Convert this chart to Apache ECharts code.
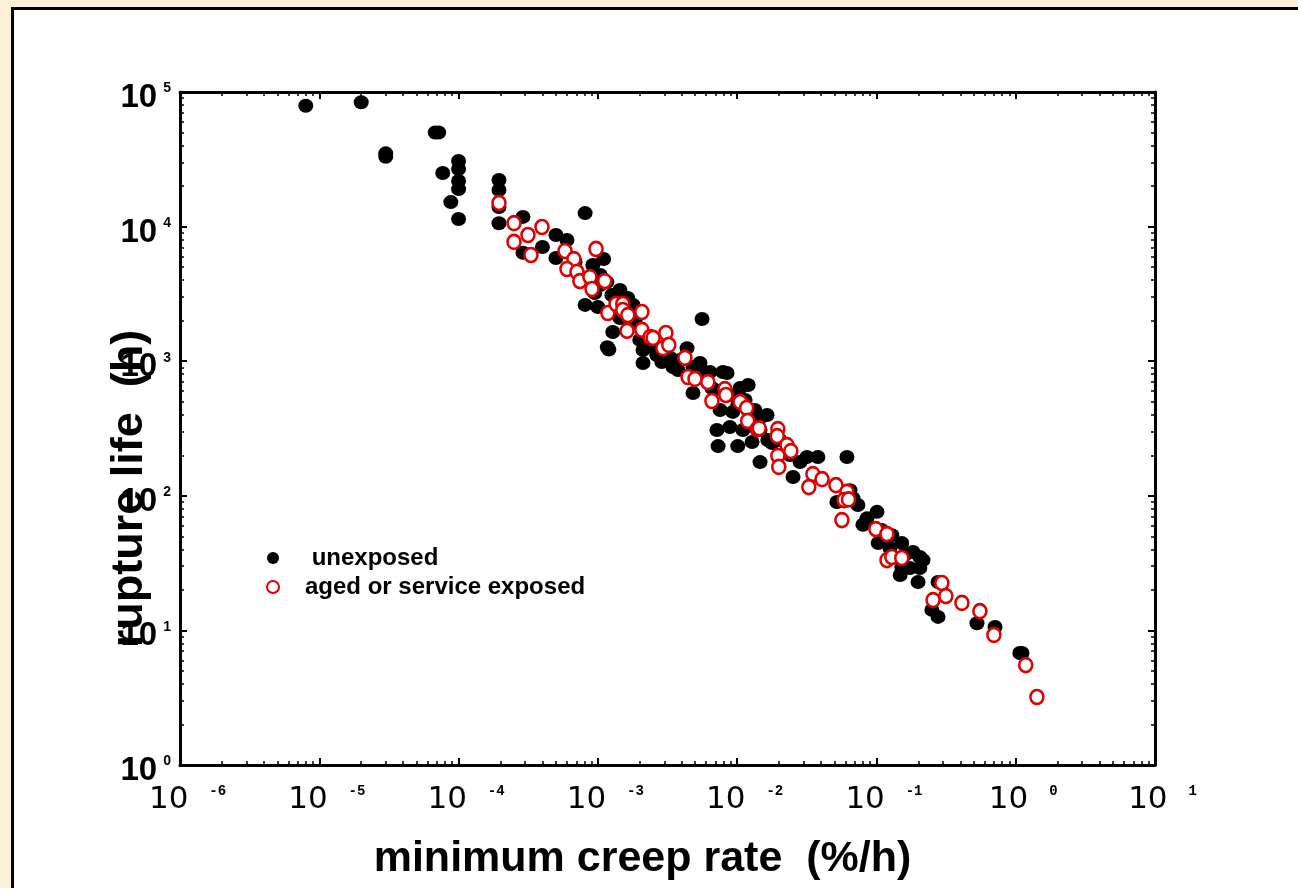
<!DOCTYPE html>
<html><head><meta charset="utf-8">
<script src="https://cdn.jsdelivr.net/npm/echarts@6/dist/echarts.min.js"></script>
<style>
html,body{margin:0;padding:0;width:1298px;height:888px;overflow:hidden;background:#fcf0d9;}
#panel{position:absolute;left:11px;top:7px;width:1400px;height:1000px;background:#fff;border:3px solid #000;box-sizing:border-box;}
#chart{position:absolute;left:0;top:0;width:1298px;height:888px;}
</style></head><body>
<div id="panel"></div><div id="chart"></div>
<script>
// ---- data (minimum creep rate in %/h, rupture life in h) ----
const unexposedRate = [8.0e-6,2.0e-5,6.8e-5,7.2e-5,3.0e-5,3.0e-5,1.0e-4,1.0e-4,7.7e-5,1.0e-4,1.0e-4,8.8e-5,1.0e-4,
 1.95e-4,1.95e-4,1.95e-4,1.95e-4,2.9e-4,2.9e-4,4.0e-4,5.0e-4,5.0e-4,6.0e-4,8.1e-4,1.1e-3,9.2e-4,8.1e-4,1.0e-3,1.16e-3,9.5e-4,
 1.28e-3,1.17e-3,1.2e-3,2.11e-3,2.11e-3,1.64e-3,1.79e-3,1.70e-3,5.6e-3,4.37e-3,4.82e-3,3.46e-3,4.82e-3,7.9e-3,2.65e-3,3.3e-3,
 5.41e-3,6.38e-3,8.46e-3,1.05e-2,1.20e-2,7.54e-3,9.3e-3,8.87e-3,7.16e-3,7.3e-3,1.01e-2,1.10e-2,1.28e-2,1.46e-2,1.64e-2,1.46e-2,
 1.78e-2,2.52e-2,3.17e-2,3.80e-2,6.14e-2,5.2e-2,6.78e-2,6.46e-2,8.55e-2,0.101,0.080,0.103,0.129,0.125,0.152,0.152,0.148,0.183,
 0.205,0.216,0.174,0.205,0.199,0.277,0.25,0.277,0.527,0.71,1.11,1.07,
 1.44e-3,2.0e-3,2.79e-3,3.88e-3,5.87e-3,6.93e-3,8.87e-3,1.14e-2,1.34e-2,2.03e-2,2.39e-2,2.83e-2,1.04e-3,6.86e-4,1.44e-3,
 1.26e-3,1.04e-3,1.85e-3,2.37e-3,2.88e-3,3.76e-3,5.24e-3,6.59e-3,1.01e-2,1.46e-2,1.66e-2,7.36e-2,0.109,0.160];
const unexposedLife = [79000,84000,50000,50000,35000,33000,30700,26800,25000,21800,19000,15200,11400,
 22200,18700,14000,10600,11800,6400,7050,8660,5840,7950,12600,5740,5190,2620,2530,3870,3210,
 1650,1270,1220,1210,970,2950,2620,1860,2060,1250,906,906,581,832,1110,1060,
 970,832,817,632,665,434,420,324,308,234,234,308,251,178,398,378,
 247,138,194,194,194,90,96,110,68,76,61,44.6,51,41,44.6,29.6,25.8,38.2,
 35.1,33.3,29.1,29.1,22.9,22.9,14.2,12.6,11.3,10.6,6.8,6.8,
 2090,1440,1170,1020,789,611,561,515,434,260,201,178,4370,5460,3380,
 3100,3680,2020,1320,986,861,750,632,473,308,260,85.5,55.7,36.3];
const agedRate = [1.95e-4,2.5e-4,3.15e-4,3.97e-4,2.5e-4,3.31e-4,5.81e-4,6.73e-4,9.7e-4,6.0e-4,7.08e-4,7.43e-4,8.77e-4,1.12e-3,
 9.08e-4,1.18e-3,1.35e-3,1.51e-3,1.51e-3,1.64e-3,2.07e-3,1.62e-3,2.07e-3,2.37e-3,2.49e-3,3.08e-3,2.93e-3,3.23e-3,4.22e-3,
 4.44e-3,4.98e-3,6.16e-3,8.17e-3,8.3e-3,6.59e-3,1.05e-2,1.17e-2,1.19e-2,1.39e-2,1.44e-2,1.96e-2,1.94e-2,2.28e-2,2.43e-2,
 1.96e-2,1.99e-2,3.50e-2,4.07e-2,3.27e-2,5.12e-2,6.14e-2,5.85e-2,6.3e-2,5.65e-2,0.099,0.119,0.119,0.129,0.152,0.295,0.315,
 0.255,0.411,0.553,0.697,1.18,1.42];
const agedLife = [15000,10600,8660,9930,7690,6150,6590,5740,6820,4840,4600,3940,4220,3940,
 3440,2280,2660,2660,2400,2200,2320,1680,1710,1510,1490,1620,1250,1320,1060,
 763,738,700,621,561,506,498,449,360,313,317,313,278,238,215,
 198,164,145,133,116,120,107,93,94,66,56.6,52,33.3,35.1,34.5,22.5,18.0,
 16.8,16.0,13.9,9.25,5.53,3.2];
const seriesNames = ['unexposed','aged or service exposed'];
const xDecadeExponents = [-6,-5,-4,-3,-2,-1,0,1];
const yDecadeExponents = [0,1,2,3,4,5];
const xTitle = 'minimum creep rate  (%/h)';
const yTitle = 'rupture life  (h)';

// ---- chart ----
const FONT = '"Liberation Sans", Arial, Helvetica, sans-serif';
const xMin = Math.pow(10, xDecadeExponents[0]), xMax = Math.pow(10, xDecadeExponents[xDecadeExponents.length-1]);
const yMin = Math.pow(10, yDecadeExponents[0]), yMax = Math.pow(10, yDecadeExponents[yDecadeExponents.length-1]);
const xMinor = [], yMinor = [];
xDecadeExponents.slice(0,-1).forEach(e => { for (let m=2;m<=9;m++) xMinor.push(e+Math.log10(m)); });
yDecadeExponents.slice(0,-1).forEach(e => { for (let m=2;m<=9;m++) yMinor.push(e+Math.log10(m)); });

const expOf = v => Math.round(Math.log10(v));
const xLabel = v => { const e = expOf(v); return '{b|10 }{s|' + (e<0 ? '-'+(-e) : e) + '}'; };
const yLabel = v => '{b|10}{s|' + expOf(v) + '}';

const lineStyle = {color:'#000', width:3};
const majorTick = {show:true, inside:true, length:7, lineStyle:{color:'#000', width:2}};
const noLabel = {show:false};
const minorAxis = (pos, min, max, vals) => ({
  type:'value', position:pos, min:min, max:max, gridIndex:0,
  axisLine:{show:false, onZero:false}, axisLabel:{show:false}, splitLine:{show:false},
  axisTick:{show:true, inside:true, length:4, customValues:vals, lineStyle:{color:'#000', width:1.5}}
});

const chart = echarts.init(document.getElementById('chart'), null, {renderer:'canvas'});
chart.setOption({
  animation:false,
  backgroundColor:'transparent',
  grid:{left:180, top:92, right:143, bottom:123, containLabel:false},
  legend:{
    orient:'vertical', left:266, top:546, padding:0, itemWidth:12, itemHeight:13, itemGap:5,
    data:seriesNames,
    formatter: n => n === seriesNames[0] ? ' ' + n : n,
    textStyle:{fontFamily:FONT, fontWeight:'bold', fontSize:24, color:'#000', padding:[2,0,0,21]}
  },
  xAxis:[
    {type:'log', logBase:10, min:xMin, max:xMax, position:'bottom', splitNumber:7,
     axisLine:{show:true, onZero:false, lineStyle:lineStyle}, axisTick:majorTick, splitLine:{show:false},
     axisLabel:{formatter:xLabel, margin:19, showMinLabel:true, showMaxLabel:true, padding:[0,0,0,15],
       rich:{b:{fontFamily:'"DejaVu Sans"', fontSize:31, color:'#000'},
             s:{fontFamily:'"Liberation Mono"', fontWeight:'bold', fontSize:14, color:'#000', verticalAlign:'top', padding:[0,0,0,11]}}},
     name:xTitle, nameLocation:'middle', nameGap:73, nameMoveOverlap:false,
     nameTextStyle:{fontFamily:FONT, fontWeight:'bold', fontSize:43, color:'#000', padding:[0,50,0,0]}},
    {type:'log', logBase:10, min:xMin, max:xMax, position:'top', splitNumber:7,
     axisLine:{show:true, onZero:false, lineStyle:lineStyle}, axisTick:majorTick, axisLabel:noLabel, splitLine:{show:false}},
    minorAxis('bottom', xDecadeExponents[0], xDecadeExponents[xDecadeExponents.length-1], xMinor),
    minorAxis('top', xDecadeExponents[0], xDecadeExponents[xDecadeExponents.length-1], xMinor)
  ],
  yAxis:[
    {type:'log', logBase:10, min:yMin, max:yMax, position:'left', splitNumber:5,
     axisLine:{show:true, onZero:false, lineStyle:lineStyle}, axisTick:majorTick, splitLine:{show:false},
     axisLabel:{formatter:yLabel, margin:9, showMinLabel:true, showMaxLabel:true, padding:[12,0,0,0],
       rich:{b:{fontFamily:FONT, fontWeight:'bold', fontSize:33, color:'#000'},
             s:{fontFamily:FONT, fontWeight:'bold', fontSize:14, color:'#000', verticalAlign:'top', padding:[0,0,0,6]}}},
     name:yTitle, nameLocation:'middle', nameGap:28, nameRotate:90, nameMoveOverlap:false,
     nameTextStyle:{fontFamily:FONT, fontWeight:'bold', fontSize:45, color:'#000', padding:[0,120,0,0]}},
    {type:'log', logBase:10, min:yMin, max:yMax, position:'right', splitNumber:5,
     axisLine:{show:true, onZero:false, lineStyle:lineStyle}, axisTick:majorTick, axisLabel:noLabel, splitLine:{show:false}},
    minorAxis('left', yDecadeExponents[0], yDecadeExponents[yDecadeExponents.length-1], yMinor),
    minorAxis('right', yDecadeExponents[0], yDecadeExponents[yDecadeExponents.length-1], yMinor)
  ],
  series:[
    {name:seriesNames[0], type:'scatter', xAxisIndex:0, yAxisIndex:0, symbol:'circle', symbolSize:[15,14],
     itemStyle:{color:'#000', opacity:1},
     data:unexposedRate.map((r,i)=>[r, unexposedLife[i]])},
    {name:seriesNames[1], type:'scatter', xAxisIndex:0, yAxisIndex:0, symbol:'circle', symbolSize:[13,14],
     itemStyle:{color:'#fff', borderColor:'#e00000', borderWidth:2.6, opacity:1},
     data:agedRate.map((r,i)=>[r, agedLife[i]])}
  ]
});
</script></body></html>
